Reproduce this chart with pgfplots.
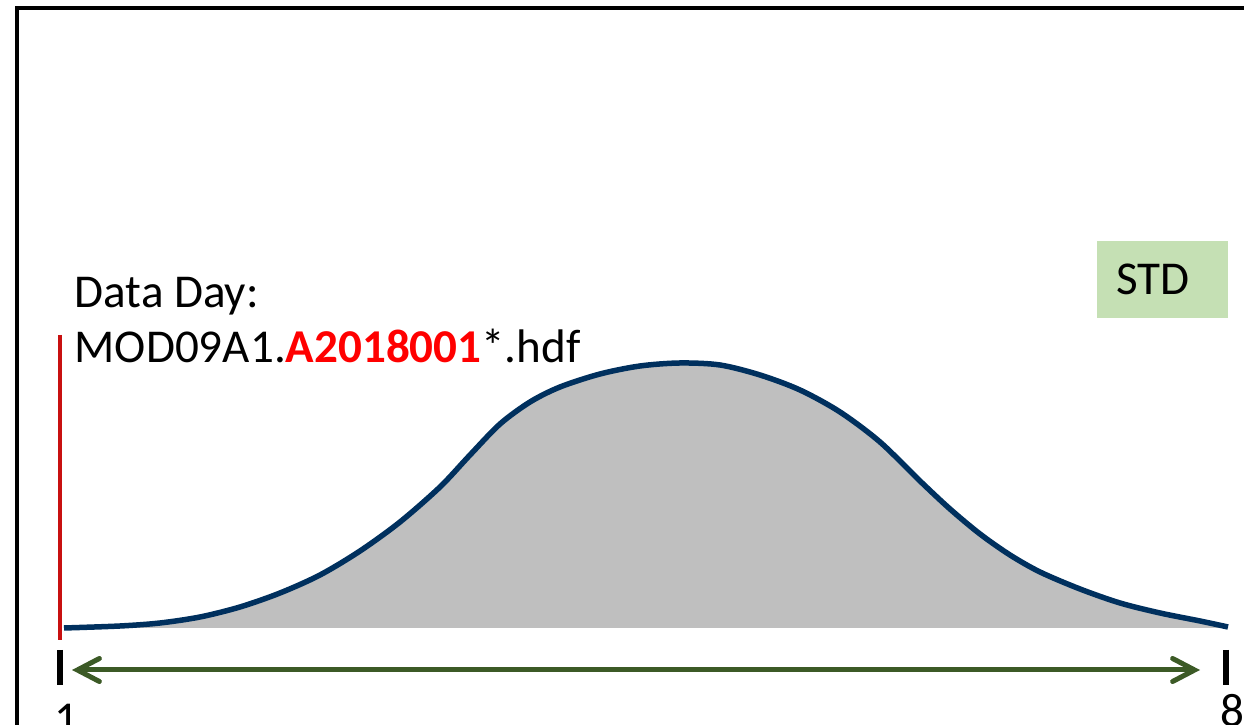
\documentclass[border=0pt]{standalone}
\usepackage{fontspec}
\setmainfont{Carlito}
\usepackage{pgfplots}
\pgfplotsset{compat=1.18}
\usepgfplotslibrary{fillbetween}
\usetikzlibrary{arrows.meta}

\definecolor{curveblue}{RGB}{0,48,94}
\definecolor{areagray}{RGB}{191,191,191}
\definecolor{arrowgreen}{RGB}{60,90,38}
\definecolor{stdgreen}{RGB}{197,224,180}
\definecolor{markred}{RGB}{200,16,16}

\newcommand{\lbl}{\fontsize{13.4}{16}\selectfont}

\pgfplotstableread{
x y
64 628
120 626
160 623
200 617
240 607
280 593
320 575
360 551
400 522
440 487
470 455
500 424
530 402
560 387
600 374
640 366
680 363
720 365
760 375
800 390
840 412
880 442
920 481
950 509
980 534
1010 555
1040 572
1080 589
1120 603
1160 613
1200 621
1228 627
}\bell

\begin{document}
\begin{tikzpicture}
\begin{axis}[
  hide axis,
  scale only axis,
  width=124.4mm, height=72.5mm,
  xmin=0, xmax=1244,
  ymin=0, ymax=725,
  y dir=reverse,
]
% bell curve (pixel-like units, y downwards)
\addplot[name path=curve, draw=none, smooth] table {\bell};
\addplot[name path=base, draw=none] coordinates {(64,628) (1228,628)};
\addplot[areagray, draw=none] fill between[of=curve and base];
\addplot[curveblue, line width=0.55mm, smooth] table {\bell};

% frame, cut off at right and bottom
\draw[line width=0.4mm] (axis cs:17,800) -- (axis cs:17,8.5) -- (axis cs:1300,8.5);

% data day marker
\draw[markred, line width=0.4mm] (axis cs:60,335) -- (axis cs:60,640);
\node[anchor=base west, inner sep=0pt, font=\lbl] at (axis cs:74,308) {Data Day:};
\node[anchor=base west, inner sep=0pt, font=\lbl] at (axis cs:74,363)
  {MOD09A1.\textcolor{red}{\textbf{A2018001}}*.hdf};

% STD box
\fill[stdgreen] (axis cs:1097,241) rectangle (axis cs:1228,318);
\node[anchor=base, inner sep=0pt, font=\lbl] at (axis cs:1153,295) {STD};

% range 1..8
\draw[line width=0.6mm] (axis cs:60,650) -- (axis cs:60,685);
\draw[line width=0.6mm] (axis cs:1226,650) -- (axis cs:1226,685);
\draw[arrowgreen, line width=0.5mm,
  {Straight Barb[length=2.2mm, width=2.3mm, line cap=round]}-{Straight Barb[length=2.2mm, width=2.3mm, line cap=round]}]
  (axis cs:72,670) -- (axis cs:1200,670);
\node[anchor=base, inner sep=0pt, font=\lbl] at (axis cs:66,735) {1};
\node[anchor=base, inner sep=0pt, font=\lbl] at (axis cs:1232,727) {8};

\coordinate (bl) at (axis cs:0,725);
\coordinate (tr) at (axis cs:1244,0);
\end{axis}
\pgfresetboundingbox
\path[use as bounding box] (bl) rectangle (tr);
\end{tikzpicture}
\end{document}
